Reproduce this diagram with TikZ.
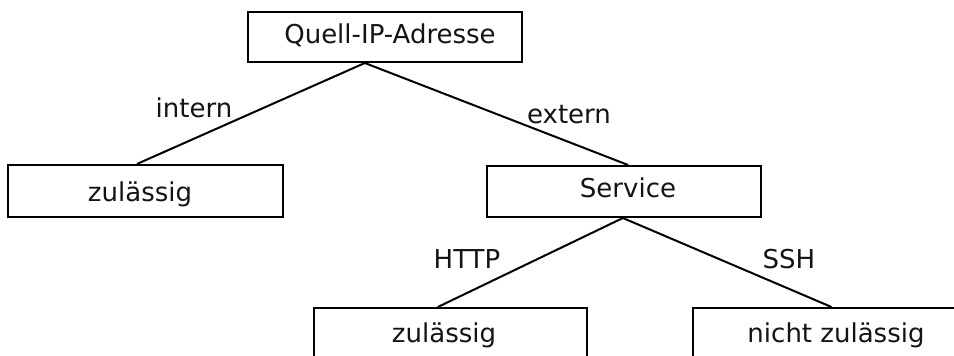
\documentclass[tikz,border=0pt]{standalone}
\usepackage{fontspec}
\setmainfont{DejaVu Sans}
\usetikzlibrary{calc}
\begin{document}
\begin{tikzpicture}[x=1pt,y=-1pt,
  box/.style={draw=black,line width=2pt,rectangle,inner sep=0pt},
  txt/.style={font=\fontsize{26}{30}\selectfont,anchor=base,inner sep=0pt,text=black!92},
  edge/.style={draw=black,line width=2pt}]
  \clip (0,0) rectangle (954,356);
  \fill[white] (0,0) rectangle (954,356);

  % decision boxes
  \node[box,minimum width=274pt,minimum height=50pt] (q) at (385,37) {};
  \node[box,minimum width=275pt,minimum height=52pt] (ok1) at (145.5,191) {};
  \node[box,minimum width=274pt,minimum height=51pt] (svc) at (624,191.5) {};
  \node[box,minimum width=273pt,minimum height=64pt] (ok2) at (450.5,340) {};
  \node[box,minimum width=277pt,minimum height=64pt] (nok) at (831.5,340) {};

  % box texts
  \node[txt] (tq) at (390,43) {Quell-IP-Adresse};
  \node[txt] (tok1) at (140,201) {zulässig};
  \node[txt] (tsvc) at (628,197) {Service};
  \node[txt] (tok2) at (444,342) {zulässig};
  \node[txt] (tnok) at (836,342) {nicht zulässig};

  % branches
  \draw[edge] ($(q.south west)!0.427!(q.south east)$) -- ($(ok1.north west)!0.469!(ok1.north east)$);
  \draw[edge] ($(q.south west)!0.427!(q.south east)$) -- ($(svc.north west)!0.515!(svc.north east)$);
  \draw[edge] ($(svc.south west)!0.496!(svc.south east)$) -- ($(ok2.north west)!0.454!(ok2.north east)$);
  \draw[edge] ($(svc.south west)!0.496!(svc.south east)$) -- ($(nok.north west)!0.50!(nok.north east)$);

  % branch labels
  \node[txt] (lint) at (194,117) {intern};
  \node[txt] (lext) at (569,123) {extern};
  \node[txt] (lhttp) at (467,268) {HTTP};
  \node[txt] (lssh) at (789,268) {SSH};
\end{tikzpicture}
\end{document}
